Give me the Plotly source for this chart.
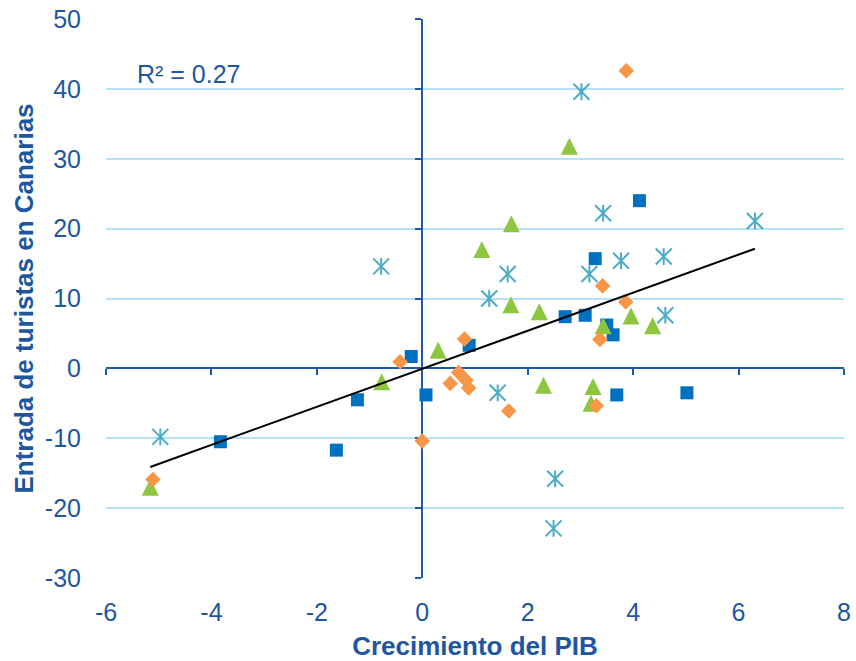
import numpy as np
import plotly.graph_objects as go

# ---- data ----
x_blue = [-3.83, -1.63, -1.23, -0.21, 0.07, 0.89, 2.71, 3.09, 3.28, 3.50, 3.62, 3.69, 5.02, 4.12]
y_blue = [-10.5, -11.7, -4.5, 1.7, -3.8, 3.3, 7.4, 7.6, 15.7, 6.2, 4.8, -3.8, -3.5, 24.0]

x_orange = [-5.11, -0.42, 0.80, 0.69, 0.53, 0.83, 0.88, 1.64, 0.00, 3.42, 3.86, 3.37, 3.30, 3.87]
y_orange = [-15.9, 0.95, 4.2, -0.6, -2.15, -1.7, -2.8, -6.1, -10.4, 11.8, 9.5, 4.15, -5.35, 42.6]

x_green = [-5.16, -0.77, 0.30, 2.30, 1.13, 1.69, 1.68, 2.22, 3.43, 3.96, 4.37, 3.24, 3.20, 2.79]
y_green = [-17.0, -1.9, 2.6, -2.4, 17.0, 20.7, 9.1, 8.1, 6.1, 7.5, 6.1, -2.6, -5.0, 31.8]

x_cyan = [-4.97, -0.78, 1.27, 1.43, 1.62, 3.17, 3.77, 4.58, 4.61, 2.52, 2.49, 3.02, 3.43, 6.31]
y_cyan = [-9.8, 14.6, 10.0, -3.5, 13.5, 13.5, 15.4, 16.0, 7.6, -15.8, -22.9, 39.6, 22.2, 21.1]

r2_text = "R² = 0.27"
x_title = "Crecimiento del PIB"
y_title = "Entrada de turistas en Canarias"
x_ticks = [-6, -4, -2, 0, 2, 4, 6, 8]
y_ticks = [-30, -20, -10, 0, 10, 20, 30, 40, 50]
x_range = [x_ticks[0], x_ticks[-1]]
y_range = [y_ticks[0], y_ticks[-1]]

# ---- linear trend over all series ----
all_x = np.array(x_blue + x_orange + x_green + x_cyan)
all_y = np.array(y_blue + y_orange + y_green + y_cyan)
slope, intercept = np.polyfit(all_x, all_y, 1)
tx = np.array([all_x.min(), all_x.max()])
ty = slope * tx + intercept

FONT = "Liberation Sans, Arial, sans-serif"
TXT = "#1E56A2"
AXC = "#1F5AA8"
GRID = "#B6E2F5"

fig = go.Figure()
fig.add_trace(go.Scatter(x=x_blue, y=y_blue, mode="markers",
                         marker=dict(symbol="square", size=13, color="#0070C0")))
fig.add_trace(go.Scatter(x=x_green, y=y_green, mode="markers",
                         marker=dict(symbol="arrow-down", size=17, angle=180, standoff=8.5,
                                     color="#8DC63F", line=dict(width=0))))
fig.add_trace(go.Scatter(x=x_orange, y=y_orange, mode="markers",
                         marker=dict(symbol="diamond", size=12, color="#F79646")))
fig.add_trace(go.Scatter(x=x_cyan, y=y_cyan, mode="markers",
                         marker=dict(symbol="x-thin", size=16, color="#4BACC6",
                                     line=dict(width=2, color="#4BACC6"))))
fig.add_trace(go.Scatter(x=x_cyan, y=y_cyan, mode="markers",
                         marker=dict(symbol="line-ns", size=12, color="#4BACC6",
                                     line=dict(width=2, color="#4BACC6"))))
# trend line on overlay axes (same ranges) so it sits above markers
fig.add_trace(go.Scatter(x=tx, y=ty, mode="lines", xaxis="x2", yaxis="y2",
                         line=dict(color="black", width=2)))

fig.add_annotation(x=-5.45, y=42.2, xref="x", yref="y", text=r2_text, showarrow=False,
                   xanchor="left", yanchor="middle", font=dict(family=FONT, size=25, color=TXT))

fig.update_layout(
    width=856, height=661,
    margin=dict(l=106, r=12, t=19, b=83),
    paper_bgcolor="white", plot_bgcolor="white",
    showlegend=False,
    font=dict(family=FONT, color=TXT),
    xaxis=dict(range=x_range, tickmode="array", tickvals=x_ticks, ticktext=[str(v) for v in x_ticks],
               showgrid=False, zeroline=False, automargin=False, ticklabeloverflow="allow",
               showline=False, ticks="", tickfont=dict(size=25, color=TXT),
               ticklabelstandoff=17,
               title=dict(text=x_title, standoff=23,
                          font=dict(size=26, color=TXT, weight="bold"))),
    yaxis=dict(range=y_range, tickmode="array", tickvals=y_ticks, ticktext=[str(v) for v in y_ticks],
               showgrid=True, gridcolor=GRID, gridwidth=2, automargin=False, ticklabeloverflow="allow",
               zeroline=False, showline=False, ticks="", tickfont=dict(size=25, color=TXT),
               ticklabelstandoff=24,
               title=dict(text=y_title, standoff=3,
                          font=dict(size=26, color=TXT, weight="bold"))),
    xaxis2=dict(overlaying="x", anchor="free", position=(0 - y_range[0]) / (y_range[1] - y_range[0]),
                range=x_range, tickmode="array", tickvals=x_ticks, showgrid=False, zeroline=False,
                showline=True, linecolor=AXC, linewidth=2, ticks="outside", ticklen=6,
                tickwidth=2, tickcolor=AXC, showticklabels=False, layer="below traces"),
    yaxis2=dict(overlaying="y", anchor="free", side="left",
                position=(0 - x_range[0]) / (x_range[1] - x_range[0]),
                range=y_range, tickmode="array", tickvals=y_ticks, showgrid=False, zeroline=False,
                showline=True, linecolor=AXC, linewidth=2, ticks="outside", ticklen=6,
                tickwidth=2, tickcolor=AXC, showticklabels=False, layer="below traces"),
)

# remove the browser's default 8px page margin so the 856x661 figure fills the window
fig.write_html("out.html", config={"displayModeBar": False},
               post_script="document.body.style.margin='0';")
